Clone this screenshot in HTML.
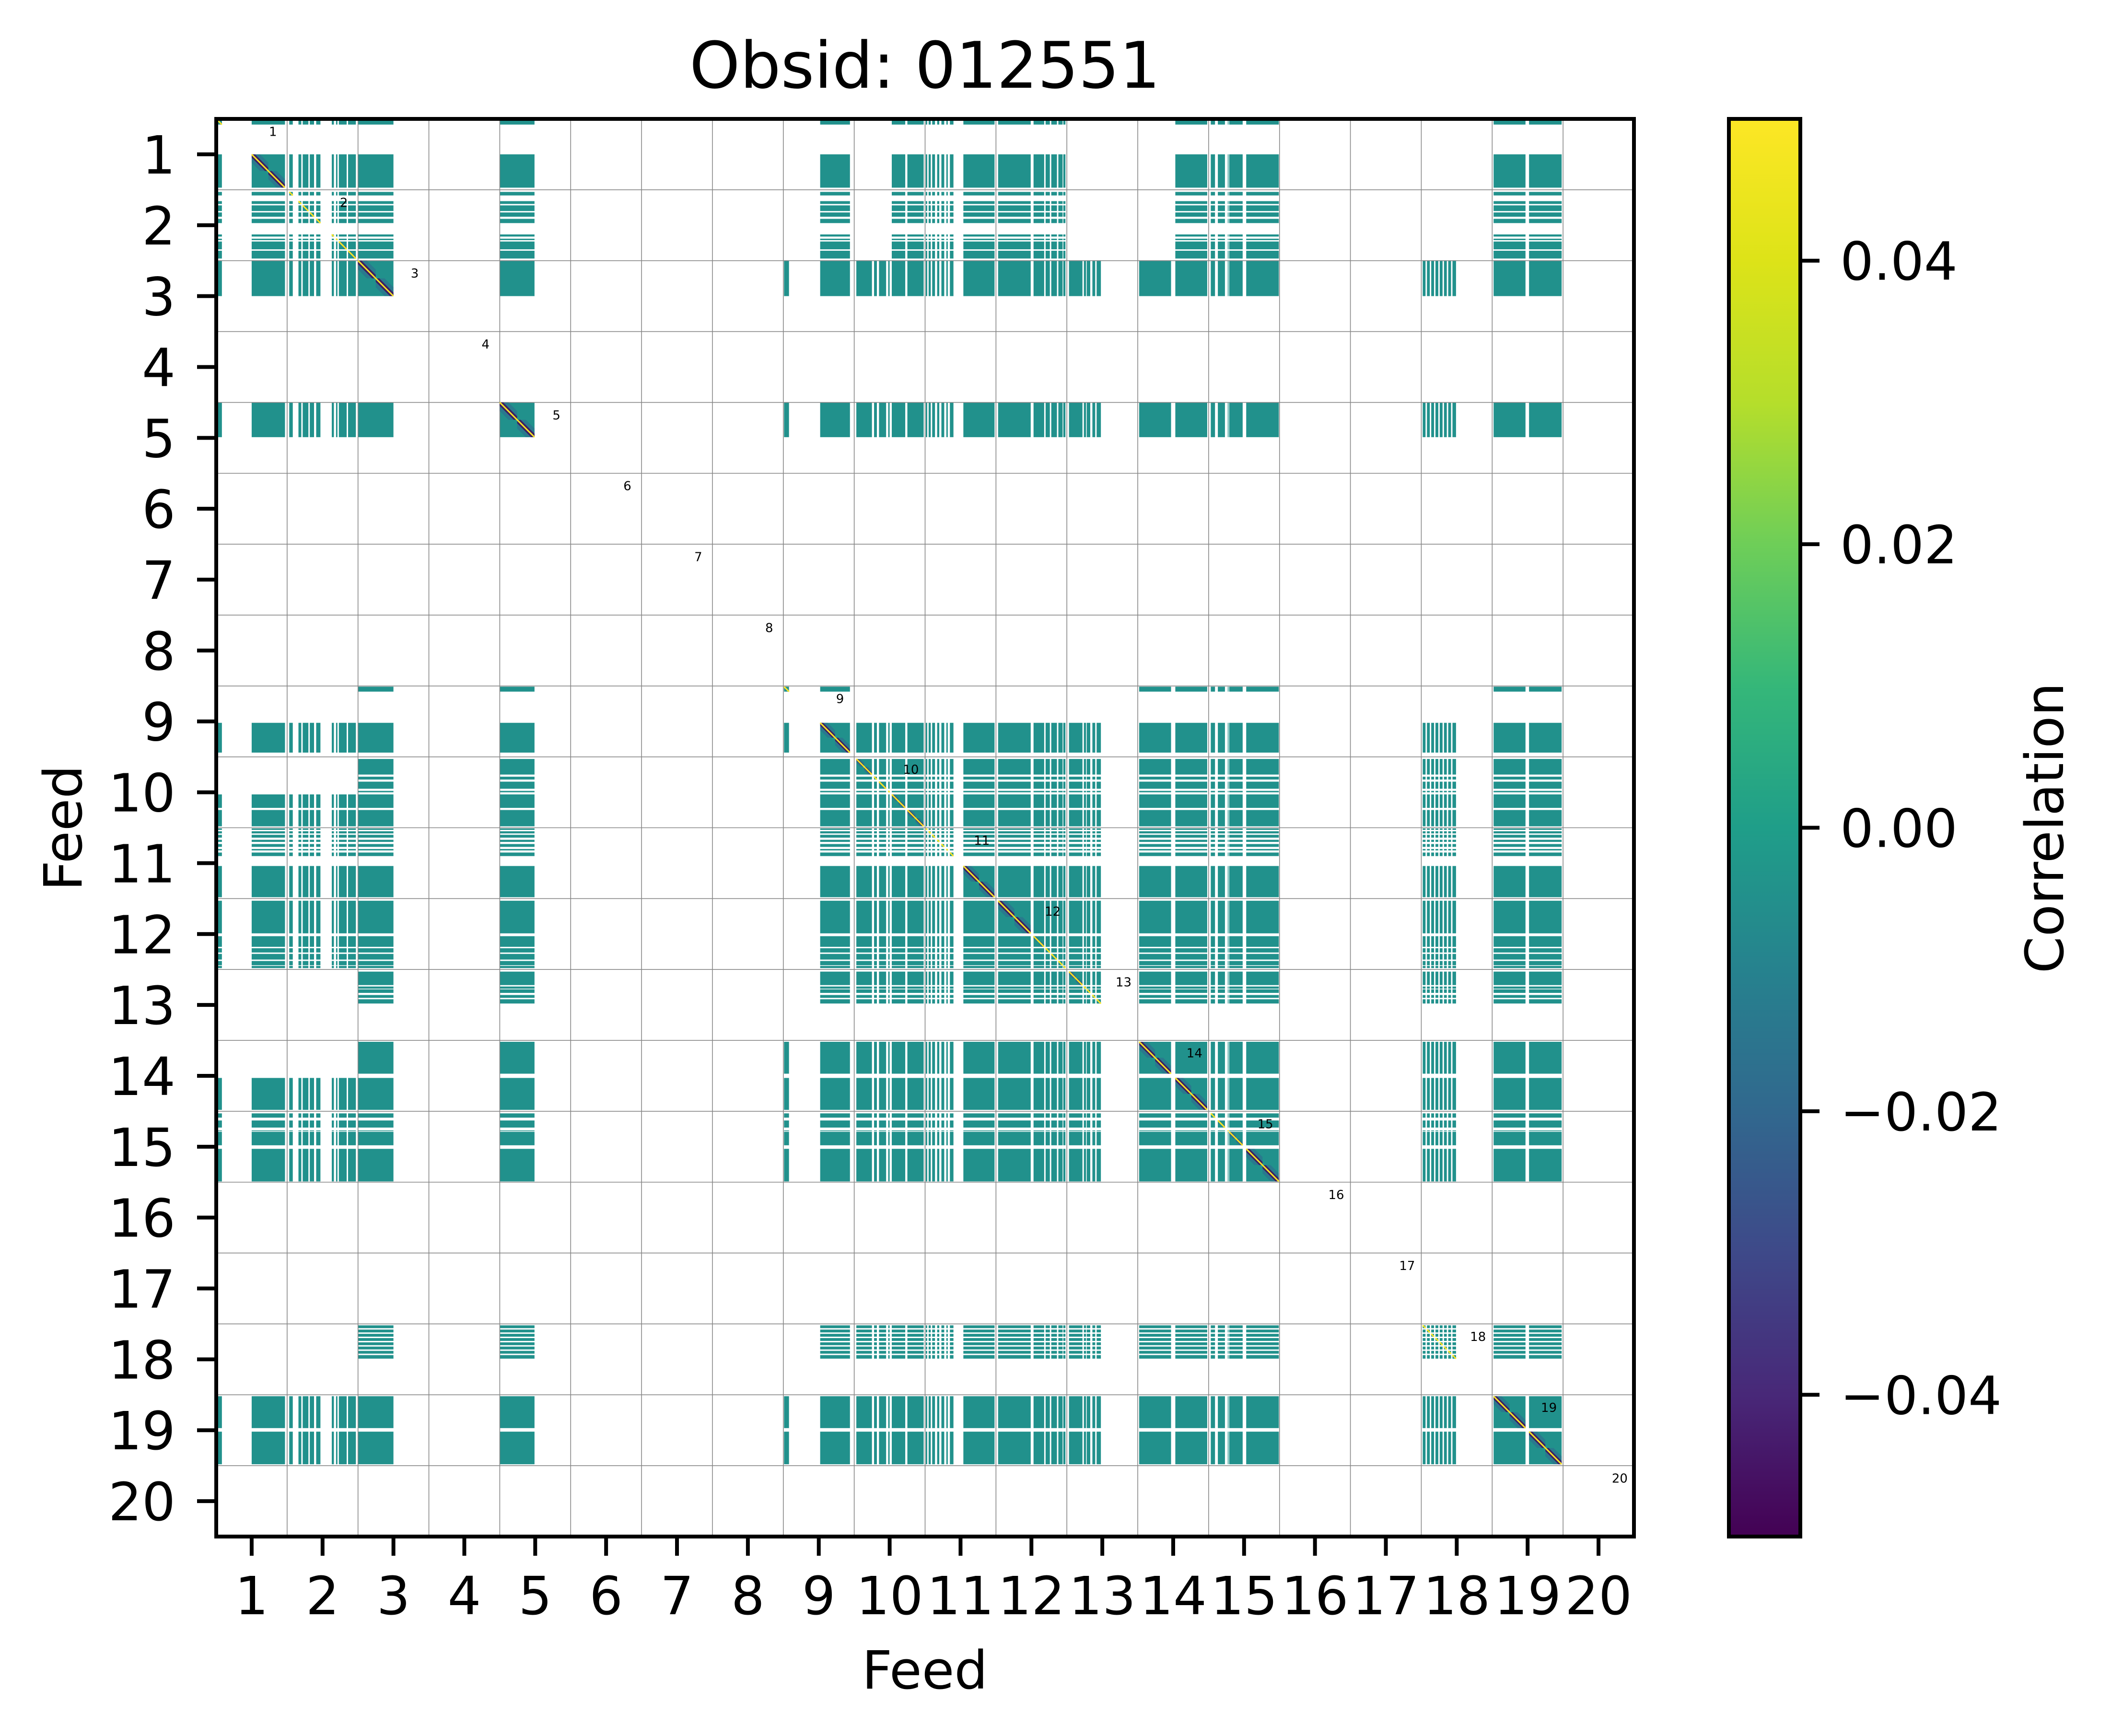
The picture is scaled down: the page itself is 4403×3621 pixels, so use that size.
<!DOCTYPE html>
<html><head><meta charset="utf-8">
<style>
html,body{margin:0;padding:0;background:#fff;}
svg{display:block;}
text{font-family:"DejaVu Sans","Liberation Sans",sans-serif;fill:#000;}
</style></head>
<body>
<svg id="chart" width="4403" height="3621" viewBox="0 0 4403 3621" xmlns="http://www.w3.org/2000/svg">
<defs>
<linearGradient id="viridis" x1="0" y1="1" x2="0" y2="0">
<stop offset="0" stop-color="#440154"/><stop offset="0.1" stop-color="#482878"/>
<stop offset="0.2" stop-color="#3e4989"/><stop offset="0.3" stop-color="#31688e"/>
<stop offset="0.4" stop-color="#26828e"/><stop offset="0.5" stop-color="#1f9e89"/>
<stop offset="0.6" stop-color="#35b779"/><stop offset="0.7" stop-color="#6ece58"/>
<stop offset="0.8" stop-color="#b5de2b"/><stop offset="0.9" stop-color="#dde318"/>
<stop offset="1" stop-color="#fde725"/>
</linearGradient>
</defs>
<g id="cells"></g>
<g id="grid"></g>
<g id="diag"></g>
<g id="labels"></g>
<rect x="451" y="248" width="2957" height="2957" fill="none" stroke="#000" stroke-width="8"/>
<g id="xticks"></g>
<g id="yticks"></g>
<text x="1929" y="183" font-size="134" text-anchor="middle">Obsid: 012551</text>
<text x="1929" y="3522" font-size="110" text-anchor="middle">Feed</text>
<text x="0" y="0" font-size="110" text-anchor="middle" transform="translate(170,1727) rotate(-90)">Feed</text>
<rect x="3606" y="248" width="149" height="2957" fill="url(#viridis)" stroke="#000" stroke-width="8"/>
<g id="cticks"></g>
<text x="0" y="0" font-size="110" text-anchor="middle" transform="translate(4303,1727) rotate(-90)">Correlation</text>
</svg>
<script>
// ---- data ----
const feeds = [1,2,3,4,5,6,7,8,9,10,11,12,13,14,15,16,17,18,19,20];
const feedIntervals = {
 1: [[0.0,0.08],[0.5,0.97]],
 2: [[0.03,0.08],[0.16,0.2],[0.22,0.3],[0.32,0.38],[0.41,0.47],[0.63,0.66],[0.69,0.71],[0.73,0.84],[0.86,0.97]],
 3: [[0.0,0.5]],
 5: [[0.0,0.49]],
 9: [[0.01,0.08],[0.52,0.94]],
 10: [[0.03,0.25],[0.28,0.32],[0.35,0.45],[0.48,0.5],[0.53,0.72],[0.75,0.98]],
 11: [[0.01,0.03],[0.05,0.08],[0.1,0.14],[0.17,0.2],[0.23,0.27],[0.3,0.32],[0.35,0.4],[0.54,0.98]],
 12: [[0.03,0.49],[0.53,0.68],[0.7,0.76],[0.78,0.86],[0.88,0.94],[0.95,0.98]],
 13: [[0.03,0.22],[0.24,0.27],[0.28,0.33],[0.36,0.4],[0.42,0.48]],
 14: [[0.02,0.47],[0.53,0.98]],
 15: [[0.03,0.09],[0.13,0.23],[0.27,0.28],[0.29,0.48],[0.53,0.99]],
 18: [[0.02,0.06],[0.08,0.12],[0.14,0.18],[0.2,0.24],[0.26,0.3],[0.32,0.36],[0.38,0.42],[0.44,0.49]],
 19: [[0.02,0.47],[0.52,0.98]]
};
// [feedA, halfA(-1 any), feedB, halfB(-1 any)] blank cross-blocks
const blankPairs = [
 [1,-1,9,0],[1,-1,10,0],[1,-1,13,-1],[1,-1,14,0],[1,-1,18,-1],
 [2,-1,9,0],[2,-1,10,0],[2,-1,13,-1],[2,-1,14,0],[2,-1,18,-1],
 [9,0,10,-1],[9,0,11,-1],[9,0,12,-1],[9,0,13,-1],[9,0,18,-1]
];
const xTickLabels = ["1","2","3","4","5","6","7","8","9","10","11","12","13","14","15","16","17","18","19","20"];
const cbTicks = [0.04,0.02,0.0,-0.02,-0.04];
const cbTickLabels = ["0.04","0.02","0.00","\u22120.02","\u22120.04"];
const cbMin = -0.05, cbMax = 0.05;

// ---- scales ----
const X0=451, Y0=248, SIZE=2957, N=feeds.length, CW=SIZE/N;
const xPos = (feed, frac) => X0 + (feed-1+frac)*CW;
const yPos = (feed, frac) => Y0 + (feed-1+frac)*CW;
const cbY = v => Y0 + (cbMax - v)/(cbMax-cbMin)*SIZE;
const NS="http://www.w3.org/2000/svg";
function mk(tag, attrs, parent){const e=document.createElementNS(NS,tag);for(const k in attrs)e.setAttribute(k,attrs[k]);parent.appendChild(e);return e;}
const half = iv => ((iv[0]+iv[1])/2 < 0.5 ? 0 : 1);
function blank(a,ha,b,hb){
 for(const p of blankPairs){
  if(p[0]===a&&(p[1]<0||p[1]===ha)&&p[2]===b&&(p[3]<0||p[3]===hb))return true;
  if(p[0]===b&&(p[1]<0||p[1]===hb)&&p[2]===a&&(p[3]<0||p[3]===ha))return true;
 }
 return false;
}

// ---- cells ----
const gC=document.getElementById('cells');
const active = feeds.filter(f=>feedIntervals[f]);
for(const r of active){ for(const c of active){
 for(const ri of feedIntervals[r]){ for(const ci of feedIntervals[c]){
  if(blank(r,half(ri),c,half(ci)))continue;
  const el=mk('rect',{x:xPos(c,ci[0]),y:yPos(r,ri[0]),width:(ci[1]-ci[0])*CW,height:(ri[1]-ri[0])*CW,fill:'#21918c'},gC);
  
  
 }}
}}

// ---- grid ----
const gG=document.getElementById('grid');
for(let k=1;k<N;k++){
 const p=X0+k*CW, q=Y0+k*CW;
 const v=mk('line',{x1:p,y1:Y0,x2:p,y2:Y0+SIZE,stroke:'#888',"stroke-width":1.6},gG);
 
 
 const h=mk('line',{x1:X0,y1:q,x2:X0+SIZE,y2:q,stroke:'#888',"stroke-width":1.6},gG);
 
 
}

// ---- diagonal blocks ----
const gD=document.getElementById('diag');
for(const f of active){
 for(const iv of feedIntervals[f]){
  const a=iv[0], b=iv[1], m=(a+b)/2;
  for(const seg of [[a,m],[m,b]]){
   const x1=xPos(f,seg[0]), y1=yPos(f,seg[0]), x2=xPos(f,seg[1]), y2=yPos(f,seg[1]);
   const s=x2-x1, d1=s*0.5, d2=s*0.2;
   const band1=mk('polygon',{points:`${x1},${y1} ${x1+d1},${y1} ${x2},${y2-d1} ${x2},${y2} ${x2-d1},${y2} ${x1},${y1+d1}`,fill:'#31688e',opacity:0.55},gD);
   
   
   const band2=mk('polygon',{points:`${x1},${y1} ${x1+d2},${y1} ${x2},${y2-d2} ${x2},${y2} ${x2-d2},${y2} ${x1},${y1+d2}`,fill:'#440154',opacity:0.75},gD);
   
   
  }
  const ln=mk('line',{x1:xPos(f,a),y1:yPos(f,a),x2:xPos(f,b),y2:yPos(f,b),stroke:'#fde725',"stroke-width":3},gD);
  
  
 }
}

// ---- feed annotations ----
const gL=document.getElementById('labels');
for(const f of feeds){
 const t=mk('text',{x:xPos(f,0.8),y:yPos(f,0.24),"font-size":26,"text-anchor":"middle"},gL);
 t.textContent=String(f);
 
 
}

// ---- axis ticks ----
const gX=document.getElementById('xticks'), gY=document.getElementById('yticks');
feeds.forEach((f,i)=>{
 const cx=xPos(f,0.5), cy=yPos(f,0.5);
 const tx=mk('line',{x1:cx,y1:Y0+SIZE,x2:cx,y2:Y0+SIZE+40,stroke:'#000',"stroke-width":8},gX);
 
 
 const lx=mk('text',{x:cx,y:3367,"font-size":110,"text-anchor":"middle"},gX);
 lx.textContent=xTickLabels[i];
 
 
 const ty=mk('line',{x1:X0-40,y1:cy,x2:X0,y2:cy,stroke:'#000',"stroke-width":8},gY);
 
 
 const ly=mk('text',{x:366,y:cy+40,"font-size":110,"text-anchor":"end"},gY);
 ly.textContent=xTickLabels[i];
 
 
});

// ---- colorbar ticks ----
const gCB=document.getElementById('cticks');
cbTicks.forEach((v,i)=>{
 const y=cbY(v);
 const t=mk('line',{x1:3755,y1:y,x2:3795,y2:y,stroke:'#000',"stroke-width":8},gCB);
 
 
 const l=mk('text',{x:3838,y:y+40,"font-size":110},gCB);
 l.textContent=cbTickLabels[i];
 
 
});
</script>
</body></html>
